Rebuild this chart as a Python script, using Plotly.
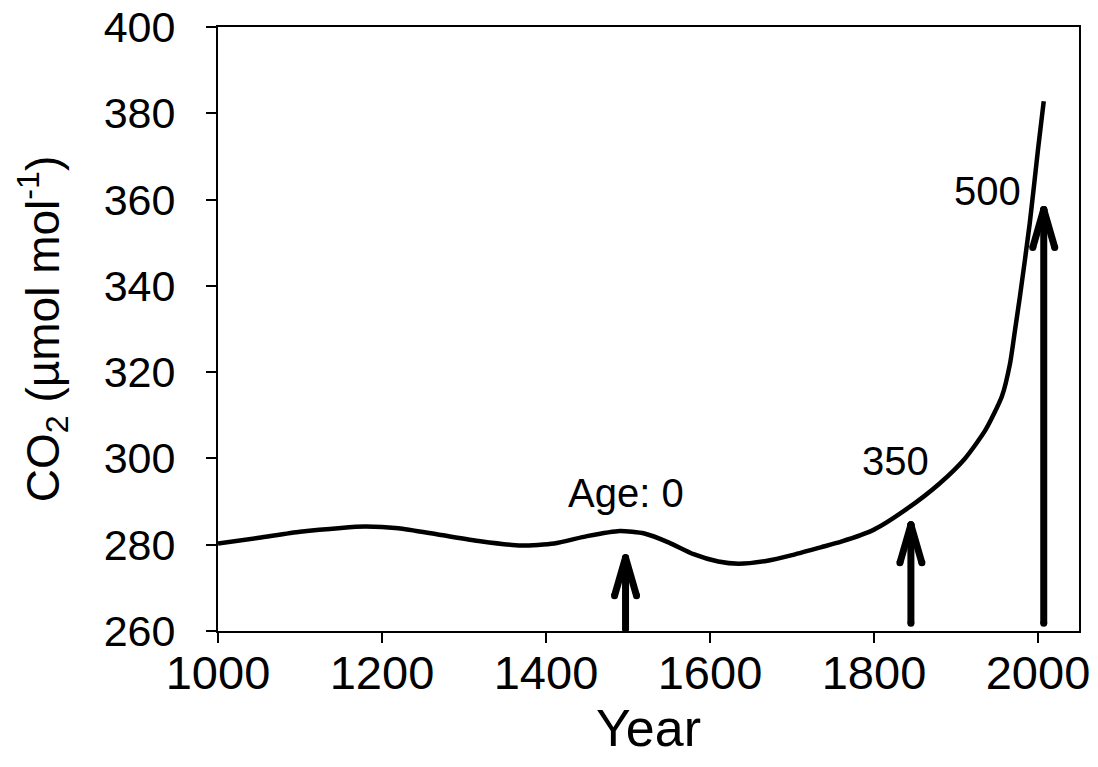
import plotly.graph_objects as go

# ---- data ----
years = [1000, 1050, 1100, 1150, 1180, 1220, 1270, 1320, 1370, 1410, 1450, 1490,
         1520, 1550, 1580, 1610, 1635, 1670, 1700, 1735, 1760, 1800, 1840, 1880, 1911,
         1936, 1956, 1966, 1972, 1978, 1990, 2000, 2007]
co2 = [280.3, 281.6, 283.0, 283.9, 284.2, 283.8, 282.3, 280.8, 279.8, 280.3, 282.0, 283.2,
       282.6, 280.5, 277.8, 276.1, 275.6, 276.3, 277.6, 279.4, 280.7, 283.5, 288.3, 294.2, 300.0,
       306.6, 314.4, 322.1, 329.8, 337.6, 354.6, 371.6, 382.8]

arrow_years = [1497, 1845, 2007]
arrow_base = [260.4, 261.8, 261.8]
arrow_tip = [277.0, 284.6, 357.7]

label_texts = ["Age: 0", "350", "500"]
label_years = [1497, 1826.5, 1938.5]
label_vals = [291.9, 299.4, 362.0]

x_ticks = [1000, 1200, 1400, 1600, 1800, 2000]
y_ticks = [260, 280, 300, 320, 340, 360, 380, 400]
x_range = [1000, 2050]
y_range = [260, 400]

# ---- layout geometry ----
W, H = 1098, 767
ML, MR, MT, MB = 218, 19, 27, 136
plot_w = W - ML - MR
plot_h = H - MT - MB
px_per_year = plot_w / (x_range[1] - x_range[0])
px_per_unit = plot_h / (y_range[1] - y_range[0])

HEAD_HALF_PX = 11
HEAD_LEN_PX = 38
STROKE = 7
dx = HEAD_HALF_PX / px_per_year
dy = HEAD_LEN_PX / px_per_unit

fig = go.Figure()
fig.add_trace(go.Scatter(x=years, y=co2, mode="lines",
                         line=dict(color="black", width=4.5, shape="spline", smoothing=0.6),
                         hoverinfo="skip", showlegend=False))

for ax_, b, t in zip(arrow_years, arrow_base, arrow_tip):
    xs = [ax_, ax_, None, ax_ - dx, ax_, None, ax_ + dx, ax_]
    ys = [b, t, None, t - dy, t, None, t - dy, t]
    fig.add_trace(go.Scatter(x=xs, y=ys, mode="lines+markers",
                             line=dict(color="black", width=STROKE),
                             marker=dict(color="black", size=STROKE, line=dict(width=0)),
                             hoverinfo="skip", showlegend=False, cliponaxis=False))

base_font = "Liberation Sans, Arial, sans-serif"

for txt, lx, ly in zip(label_texts, label_years, label_vals):
    fig.add_annotation(x=lx, y=ly, text=txt, showarrow=False, xanchor="center", yanchor="middle",
                       font=dict(family=base_font, size=40, color="black"))

fig.update_layout(
    width=W, height=H,
    margin=dict(l=ML, r=MR, t=MT, b=MB, pad=0, autoexpand=False),
    paper_bgcolor="white", plot_bgcolor="white",
    showlegend=False,
    xaxis=dict(range=x_range, tickvals=x_ticks, ticktext=[str(v) for v in x_ticks],
               automargin=False,
               showgrid=False, zeroline=False, showline=True, linecolor="black", linewidth=2,
               mirror=True, ticks="outside", ticklen=10, tickwidth=2, tickcolor="black",
               ticklabelstandoff=-10,
               tickfont=dict(family=base_font, size=47, color="black"),
               title=dict(text="Year", font=dict(family=base_font, size=52, color="black"),
                          standoff=0)),
    yaxis=dict(range=y_range, tickvals=y_ticks, ticktext=[str(v) for v in y_ticks],
               automargin=False,
               showgrid=False, zeroline=False, showline=True, linecolor="black", linewidth=2,
               mirror=True, ticks="outside", ticklen=10, tickwidth=2, tickcolor="black",
               tickfont=dict(family=base_font, size=43, color="black"),
               ticklabelstandoff=22,
               title=dict(text="CO<sub>2</sub> (µmol mol<sup>-1</sup>)",
                          font=dict(family=base_font, size=46, color="black"),
                          standoff=30)),
)

fig.write_html("out.html")
